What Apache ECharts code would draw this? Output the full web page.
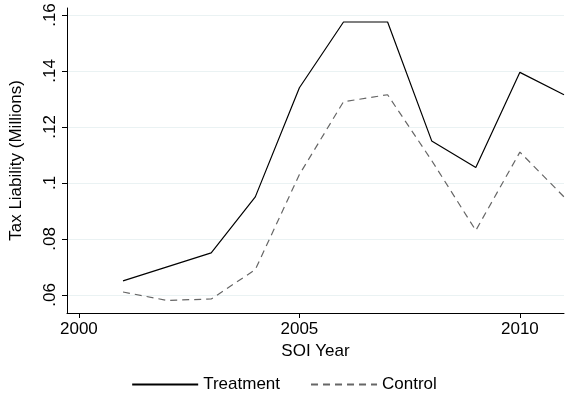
<!DOCTYPE html><html><head><meta charset="utf-8"><script src="https://cdn.jsdelivr.net/npm/echarts@6/dist/echarts.min.js"></script></head><body style="margin:0"><div id="c" style="width:568px;height:402px"></div><script>
const years=[2001,2002,2003,2004,2005,2006,2007,2008,2009,2010,2011];
const treatment=[0.065,0.070,0.075,0.095,0.134,0.1575,0.1575,0.115,0.1055,0.1395,0.1315];
const control=[0.061,0.058,0.0585,0.069,0.103,0.129,0.1315,0.108,0.083,0.111,0.095];
const yTicks=[0.06,0.08,0.10,0.12,0.14,0.16];
const xTicks=[2000,2005,2010];
const fmt=v=>{const s=v.toFixed(2).replace(/^0/,'');return s==='.10'?'.1':s;};
const F='Liberation Sans';
const c=echarts.init(document.getElementById('c'));
c.setOption({animation:false,textStyle:{fontFamily:F},
grid:{left:63,right:4,top:8,bottom:89},
legend:{bottom:4,itemWidth:66,itemHeight:14,itemGap:30,textStyle:{fontSize:17,color:'#000',fontFamily:F},data:['Treatment','Control'],itemStyle:{opacity:0}},
xAxis:{type:'value',min:1999.73,max:2011,name:'SOI Year',nameLocation:'middle',nameGap:30,nameTextStyle:{fontSize:17,color:'#000'},
 axisLine:{lineStyle:{color:'#000'}},axisTick:{length:5,lineStyle:{color:'#000'},customValues:xTicks},
 axisLabel:{fontSize:17,color:'#000',customValues:xTicks,formatter:v=>String(v)},splitLine:{show:false}},
yAxis:{type:'value',min:0.0535,max:0.1625,name:'Tax Liability (Millions)',nameLocation:'middle',nameGap:42,nameTextStyle:{fontSize:17,color:'#000'},
 axisLine:{show:true,lineStyle:{color:'#000'}},axisTick:{show:true,length:5,lineStyle:{color:'#000'},customValues:yTicks},
 axisLabel:{fontSize:17,color:'#000',rotate:90,customValues:yTicks,formatter:fmt},
 splitLine:{show:true,lineStyle:{color:'#eaf2f3'}}},
series:[
{name:'Treatment',type:'line',symbol:'none',legendIcon:'none',data:years.map((y,i)=>[y,treatment[i]]),lineStyle:{color:'#000',width:1.2},itemStyle:{color:'#000'}},
{name:'Control',type:'line',symbol:'none',data:years.map((y,i)=>[y,control[i]]),lineStyle:{color:'#666',width:1.2,type:[7,5]},itemStyle:{color:'#666'}}
]});
</script></body></html>
